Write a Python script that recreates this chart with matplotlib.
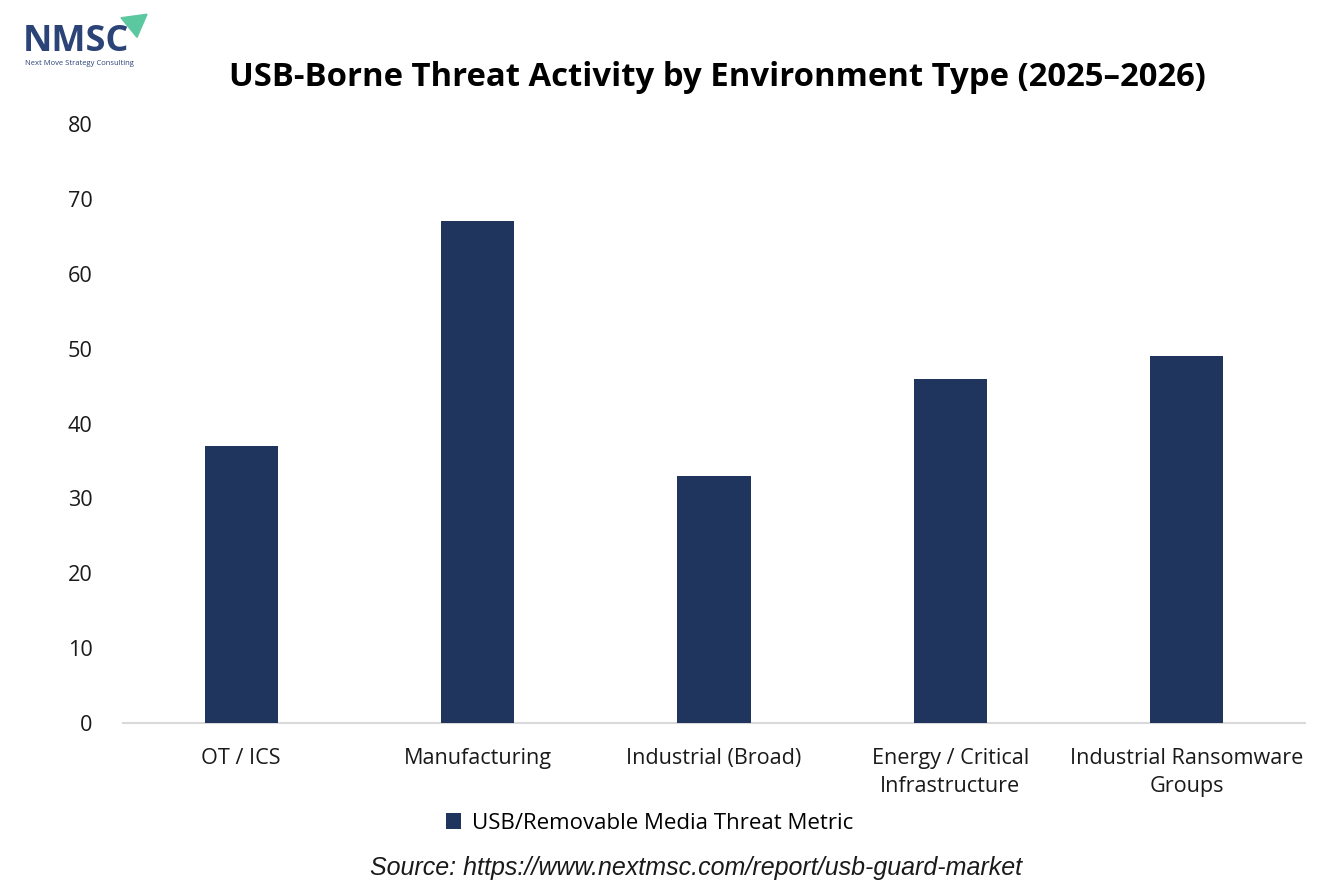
import numpy as np
import matplotlib.pyplot as plt
from matplotlib.patches import Polygon

# === Data ===
categories = ["OT / ICS", "Manufacturing", "Industrial (Broad)",
              "Energy / Critical\nInfrastructure", "Industrial Ransomware\nGroups"]
values = [37, 67, 33, 46, 49]
series_name = "USB/Removable Media Threat Metric"
yticks = [0, 10, 20, 30, 40, 50, 60, 70, 80]

navy = "#1F355E"
font = ["Open Sans", "DejaVu Sans"]

fig = plt.figure(figsize=(13.34, 8.89), dpi=100)
ax = fig.add_axes([0.0922, 0.1867, 0.886, 0.6738])

x = np.arange(len(categories))
ax.bar(x, values, width=0.31, color=navy, label=series_name, zorder=3)

ax.set_xlim(-0.5, len(categories) - 0.5)
ax.set_ylim(0, 80)
ax.set_yticks(yticks)
ax.set_xticks(x)
ax.set_xticklabels(categories, fontsize=15.6, family=font, color="#1a1a1a",
                   linespacing=1.45)
ax.set_yticklabels([str(t) for t in yticks], fontsize=15.6, family=font,
                   color="#1a1a1a")
ax.tick_params(axis="both", length=0)
ax.tick_params(axis="x", pad=18)
ax.tick_params(axis="y", pad=22)
for s in ["top", "right", "left"]:
    ax.spines[s].set_visible(False)
ax.spines["bottom"].set_color("#D9D9D9")
ax.spines["bottom"].set_linewidth(1.5)

# title
fig.text(0.538, 0.913, "USB-Borne Threat Activity by Environment Type (2025\u20132026)",
         ha="center", va="center", fontsize=23.7, fontweight="bold",
         family=font, color="black")

# legend
fig.legend(loc="center", bbox_to_anchor=(0.487, 0.074), frameon=False,
           prop={"family": font, "size": 16}, handlelength=0.7,
           handleheight=0.7, handletextpad=0.5)

# source
fig.text(0.522, 0.024, "Source: https://www.nextmsc.com/report/usb-guard-market",
         ha="center", va="center", fontsize=18, style="italic",
         family=["Liberation Sans", "DejaVu Sans"], color="#1a1a1a")

# logo
fig.text(0.017, 0.953, "NMSC", ha="left", va="center", fontsize=26,
         fontweight="bold", family=font, color="#2B4377")
fig.text(0.019, 0.929, "Next Move Strategy Consulting", ha="left",
         va="center", fontsize=5.5, family=font, color="#2B4377")
tri = Polygon([[0.0907, 0.980], [0.1102, 0.984], [0.1027, 0.958]],
              closed=True, transform=fig.transFigure, color="#5CC8A0")
fig.patches.append(tri)

plt.savefig("out.png", dpi=100)
